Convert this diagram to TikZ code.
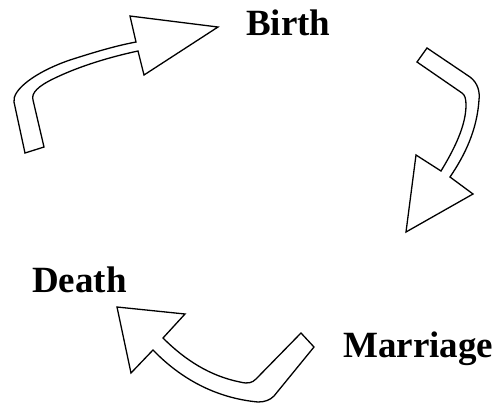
\documentclass[tikz,border=0pt]{standalone}
\usepackage{fontspec}
\setmainfont{Liberation Serif}
\usepackage{tikz}
\usetikzlibrary{positioning}

\begin{document}
\begin{tikzpicture}[
  x=1pt, y=-1pt,
  lbl/.style={font=\fontsize{37}{41}\selectfont\bfseries, inner sep=0pt, anchor=base west},
  cyclearrow/.style={draw=black, fill=white, line width=1.3pt, line join=miter},
]
  \useasboundingbox (0,0) rectangle (496,405);

  \node[lbl] (birth) at (246,35) {Birth};
  \node[lbl] (death) at (32,292) {Death};
  \node[lbl] (marriage) at (343,357) {Marriage};

  % death -> birth
  \draw[cyclearrow] (25,153) -- (14,102) .. controls (12,90) and (35,72) .. (70,60)
    .. controls (95,52) and (115,46) .. (136,42) -- (130,16) -- (218,27) -- (144,75)
    -- (138,51) .. controls (110,57) and (80,66) .. (55,78)
    .. controls (38,86) and (31,93) .. (33,100) -- (44,147) -- cycle;
  % birth -> marriage
  \draw[cyclearrow] (427,48) -- (470,77) .. controls (478,83) and (480,92) .. (479,100)
    .. controls (477,130) and (465,155) .. (450,177) -- (473,194) -- (406,232) -- (416,155)
    -- (441,171) .. controls (455,148) and (466,125) .. (466,105)
    .. controls (466,99) and (465,95) .. (462,93) -- (417,62) -- cycle;
  % marriage -> death
  \draw[cyclearrow] (301,333) -- (256,379) .. controls (252,383) and (248,384) .. (240,382)
    .. controls (210,376) and (185,360) .. (163,338) -- (185,314) -- (117,307) -- (131,373)
    -- (153,350) .. controls (180,378) and (215,398) .. (258,402)
    .. controls (265,402) and (270,400) .. (274,396) -- (314,347) -- cycle;
\end{tikzpicture}
\end{document}
